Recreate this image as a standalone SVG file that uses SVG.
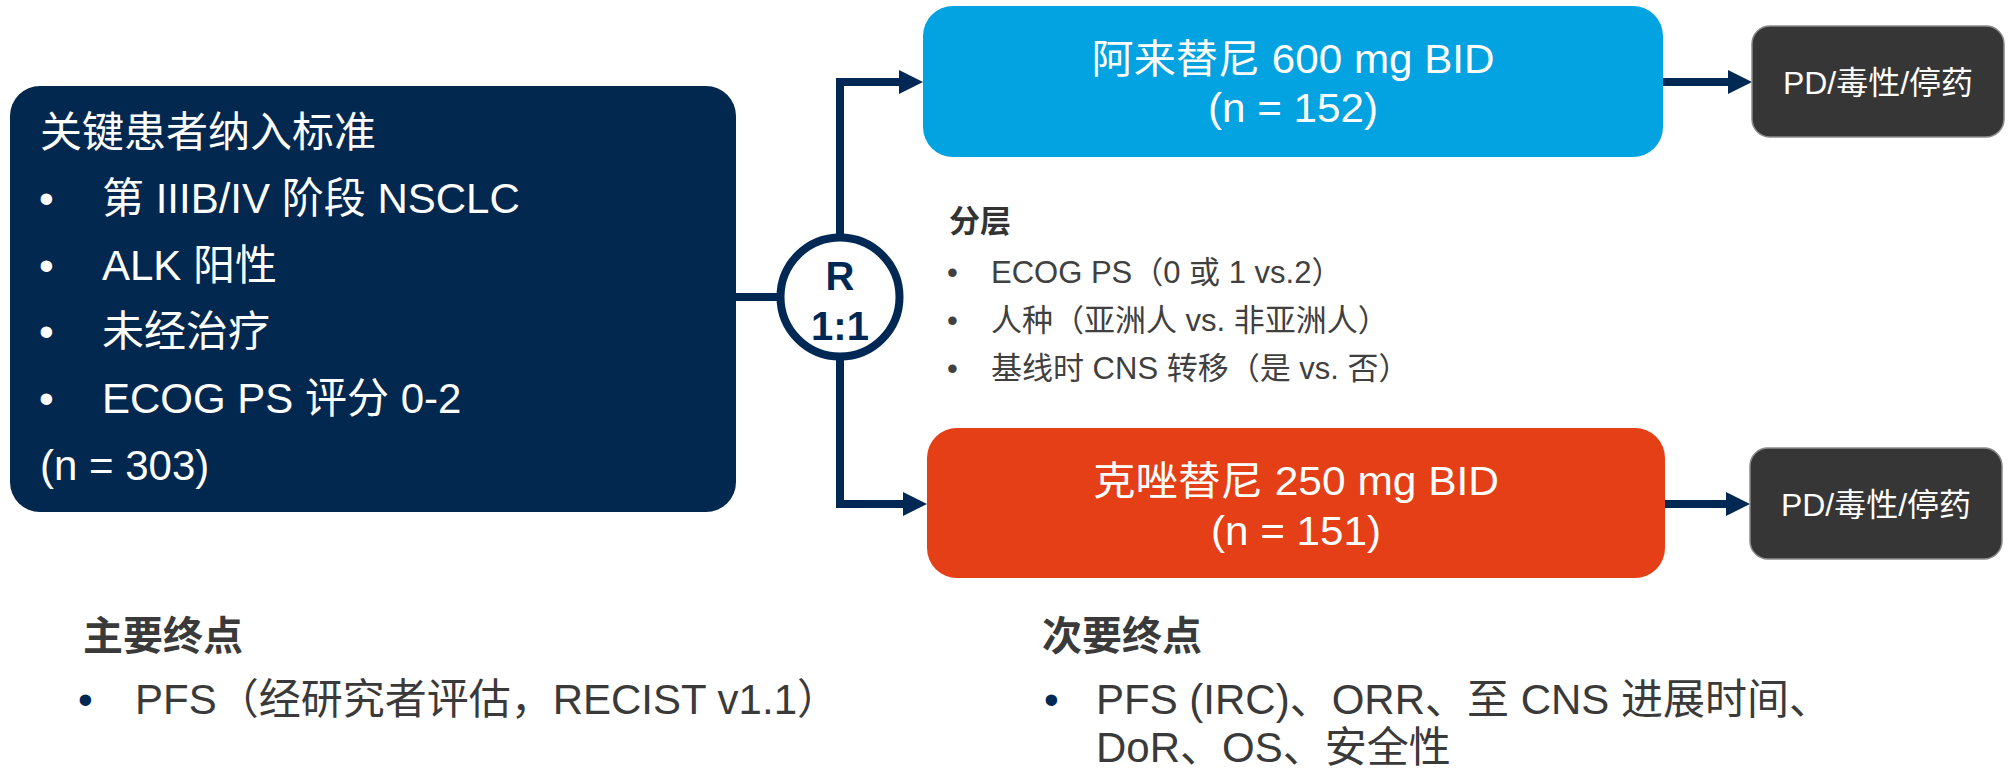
<svg xmlns="http://www.w3.org/2000/svg" width="2008" height="768" viewBox="0 0 2008 768">
<style>
text{font-family:"Liberation Sans","Noto Sans CJK SC",sans-serif;}
.w{fill:#ffffff;}
.lt{font-size:42px;}
.bt{font-size:40px;text-anchor:middle;fill:#ffffff;}
.gt{font-size:32px;text-anchor:middle;fill:#ffffff;}
.st{font-size:31px;fill:#404040;}
.hd{font-weight:bold;fill:#333333;}
.ep{font-size:42px;fill:#3a3a3a;}
.eh{font-size:40px;}
.nv{fill:#002855;}
.con{fill:none;stroke:#002855;stroke-width:8;stroke-linejoin:miter;}
</style>
<defs>
<marker id="ah" markerUnits="userSpaceOnUse" markerWidth="24" markerHeight="24" viewBox="0 0 24 24" refX="6" refY="12" orient="auto">
<path d="M0,0 L24,12 L0,24 Z" fill="#002855"/>
</marker>
</defs>
<rect width="2008" height="768" fill="#ffffff"/>

<g id="connectors">
<path class="con" d="M736,297 H782"/>
<path class="con" d="M840,237 V82 H905" marker-end="url(#ah)"/>
<path class="con" d="M840,357 V504 H909" marker-end="url(#ah)"/>
<path class="con" d="M1663,82 H1734" marker-end="url(#ah)"/>
<path class="con" d="M1665,504 H1732" marker-end="url(#ah)"/>
</g>

<g id="criteria">
<rect x="10" y="86" width="726" height="426" rx="30" fill="#02284F"/>
<text class="lt w" x="40" y="147">关键患者纳入标准</text>
<text class="lt w" x="39" y="213">•</text><text class="lt w" x="102" y="213">第 IIIB/IV 阶段 NSCLC</text>
<text class="lt w" x="39" y="280">•</text><text class="lt w" x="102" y="280">ALK 阳性</text>
<text class="lt w" x="39" y="346">•</text><text class="lt w" x="102" y="346">未经治疗</text>
<text class="lt w" x="39" y="413">•</text><text class="lt w" x="102" y="413">ECOG PS 评分 0-2</text>
<text class="lt w" x="40" y="480">(n = 303)</text>
</g>

<g id="randomize">
<circle cx="840" cy="297" r="59.5" fill="#ffffff" stroke="#002855" stroke-width="8"/>
<text x="840" y="290" font-size="40" font-weight="bold" text-anchor="middle" class="nv">R</text>
<text x="840" y="340" font-size="40" font-weight="bold" text-anchor="middle" class="nv">1:1</text>
</g>

<g id="alectinib">
<rect x="923" y="6" width="740" height="151" rx="30" fill="#02A3E0"/>
<text class="bt" x="1293" y="73" textLength="403" lengthAdjust="spacingAndGlyphs">阿来替尼 600 mg BID</text>
<text class="bt" x="1293" y="122" textLength="170" lengthAdjust="spacingAndGlyphs">(n = 152)</text>
</g>

<g id="crizotinib">
<rect x="927" y="428" width="738" height="150" rx="30" fill="#E53F17"/>
<text class="bt" x="1296" y="495" textLength="406" lengthAdjust="spacingAndGlyphs">克唑替尼 250 mg BID</text>
<text class="bt" x="1296" y="545" textLength="170" lengthAdjust="spacingAndGlyphs">(n = 151)</text>
</g>

<g id="end-top">
<rect x="1752" y="26" width="252" height="111" rx="18" fill="#363636" stroke="#8a8a8a" stroke-width="1.5"/>
<text class="gt" x="1878" y="94">PD/毒性/停药</text>
</g>

<g id="end-bottom">
<rect x="1750" y="448" width="252" height="111" rx="18" fill="#363636" stroke="#8a8a8a" stroke-width="1.5"/>
<text class="gt" x="1876" y="516">PD/毒性/停药</text>
</g>

<g id="stratification">
<text class="st hd" x="949" y="232" font-size="29">分层</text>
<text class="st" x="947" y="283">•</text><text class="st" x="991" y="283">ECOG PS（0 或 1 vs.2）</text>
<text class="st" x="947" y="331">•</text><text class="st" x="991" y="331">人种（亚洲人 vs. 非亚洲人）</text>
<text class="st" x="947" y="379">•</text><text class="st" x="991" y="379">基线时 CNS 转移（是 vs. 否）</text>
</g>

<g id="primary">
<text class="ep eh hd" x="83" y="650">主要终点</text>
<text class="ep nv" x="78" y="714">•</text><text class="ep" x="135" y="714">PFS（经研究者评估，RECIST v1.1）</text>
</g>

<g id="secondary">
<text class="ep eh hd" x="1042" y="650">次要终点</text>
<text class="ep nv" x="1044" y="714">•</text><text class="ep" x="1096" y="714">PFS (IRC)、ORR、至 CNS 进展时间、</text>
<text class="ep" x="1096" y="762">DoR、OS、安全性</text>
</g>
</svg>
